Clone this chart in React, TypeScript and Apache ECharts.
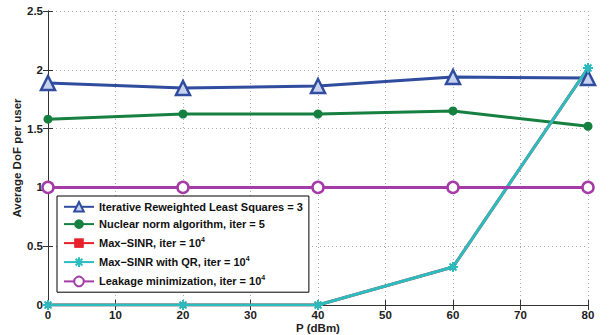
import React, { useEffect, useRef } from "react";
import * as echarts from "echarts";

const xValues = [0, 20, 40, 60, 80];
const irls = [1.888, 1.845, 1.862, 1.939, 1.93];
const nuclear = [1.58, 1.624, 1.624, 1.65, 1.52];
const maxSinr = [0, 0, 0, 0.323, 2.015];
const maxSinrQR = [0, 0, 0, 0.323, 2.015];
const leakage = [1, 1, 1, 1, 1];

const seriesNames = ["IRLS", "Nuclear", "MaxSINR", "MaxSINRQR", "Leakage"];
const legendLabels: Record<string, string> = {
  IRLS: "Iterative Reweighted Least Squares = 3",
  Nuclear: "Nuclear norm algorithm, iter = 5",
  MaxSINR: "Max\u2212SINR, iter = 10{sup|4}",
  MaxSINRQR: "Max\u2212SINR with QR, iter = 10{sup|4}",
  Leakage: "Leakage minimization, iter = 10{sup|4}",
};

const starPath =
  "path://M0,5 L10,5 M5,0 L5,10 M1.5,1.5 L8.5,8.5 M8.5,1.5 L1.5,8.5";

const FONT = "Liberation Sans, Arial, Helvetica, sans-serif";

export default function App() {
  const ref = useRef<HTMLDivElement>(null);
  useEffect(() => {
    if (!ref.current) return;
    const chart = echarts.init(ref.current, undefined, { renderer: "svg" });
    const pts = (ys: number[]) => xValues.map((x, i) => [x, ys[i]]);
    const axisLabel = { color: "#222", fontWeight: "bold" as const, fontSize: 11.5, fontFamily: FONT };
    chart.setOption({
      animation: false,
      textStyle: { fontFamily: FONT },
      grid: { left: 48, top: 11, width: 540, height: 294, outerBoundsMode: "none", containLabel: false },
      xAxis: [
        {
          type: "value", min: 0, max: 80, interval: 10,
          name: "P (dBm)", nameLocation: "middle", nameGap: 17, nameMoveOverlap: false,
          nameTextStyle: { color: "#222", fontWeight: "bold", fontSize: 11.5, fontFamily: FONT },
          axisLine: { lineStyle: { color: "#333", width: 1 } },
          axisTick: { inside: true, length: 5, lineStyle: { color: "#333" } },
          axisLabel: { ...axisLabel, margin: 4 },
          splitLine: { show: true, lineStyle: { color: "#aaa", type: [1, 3] } },
        },
        {
          type: "value", min: 0, max: 80, interval: 10, position: "top",
          axisLine: { show: true, lineStyle: { color: "#333", width: 1 } },
          axisTick: { show: true, inside: true, length: 5, lineStyle: { color: "#333" } },
          axisLabel: { show: false }, splitLine: { show: false },
        },
      ],
      yAxis: [
        {
          type: "value", min: 0, max: 2.5, interval: 0.5,
          name: "Average DoF per user", nameLocation: "middle", nameGap: 25, nameMoveOverlap: false,
          nameTextStyle: { color: "#222", fontWeight: "bold", fontSize: 11.5, fontFamily: FONT },
          axisLine: { show: true, lineStyle: { color: "#333", width: 1 } },
          axisTick: { show: true, inside: true, length: 5, lineStyle: { color: "#333" } },
          axisLabel: { ...axisLabel, margin: 5 },
          splitLine: { show: true, lineStyle: { color: "#aaa", type: [1, 3] } },
        },
        {
          type: "value", min: 0, max: 2.5, interval: 0.5, position: "right",
          axisLine: { show: true, lineStyle: { color: "#333", width: 1 } },
          axisTick: { show: true, inside: true, length: 5, lineStyle: { color: "#333" } },
          axisLabel: { show: false }, splitLine: { show: false },
        },
      ],
      legend: {
        orient: "vertical",
        left: 57, top: 196,
        backgroundColor: "#fff",
        borderColor: "#000", borderWidth: 1,
        padding: [5, 6, 5, 6],
        itemWidth: 30, itemHeight: 12, itemGap: 6,
        data: seriesNames,
        formatter: (n: string) => legendLabels[n],
        textStyle: {
          color: "#111", fontWeight: "bold", fontSize: 11, fontFamily: FONT,
          rich: {
            sup: { fontSize: 7, fontWeight: "bold", verticalAlign: "top", padding: [0, 0, 8, 0], color: "#111" },
          },
        },
      },
      series: [
        {
          name: "IRLS", type: "line", data: pts(irls),
          symbol: "triangle", symbolSize: 14,
          lineStyle: { color: "#2f4c9e", width: 3 },
          itemStyle: { color: "#c8d2ee", borderColor: "#2f4c9e", borderWidth: 2.5 },
        },
        {
          name: "Nuclear", type: "line", data: pts(nuclear),
          symbol: "circle", symbolSize: 9,
          lineStyle: { color: "#168040", width: 3 },
          itemStyle: { color: "#168040", borderColor: "#168040", borderWidth: 0 },
        },
        {
          name: "MaxSINR", type: "line", data: pts(maxSinr),
          symbol: "rect", symbolSize: 6,
          lineStyle: { color: "#e8202a", width: 3 },
          itemStyle: { color: "#e8202a" },
        },
        {
          name: "MaxSINRQR", type: "line", data: pts(maxSinrQR),
          symbol: starPath, symbolSize: 10,
          lineStyle: { color: "#2bbcbf", width: 3 },
          itemStyle: { color: "#2bbcbf", borderColor: "#2bbcbf", borderWidth: 2 },
        },
        {
          name: "Leakage", type: "line", data: pts(leakage),
          symbol: "circle", symbolSize: 11,
          lineStyle: { color: "#a43ba6", width: 3 },
          itemStyle: { color: "#fff", borderColor: "#a43ba6", borderWidth: 2.5 },
        },
      ],
    });
    return () => chart.dispose();
  }, []);
  return (
    <div
      ref={ref}
      style={{ position: "fixed", left: 0, top: 0, width: 612, height: 335, background: "#fff" }}
    />
  );
}
